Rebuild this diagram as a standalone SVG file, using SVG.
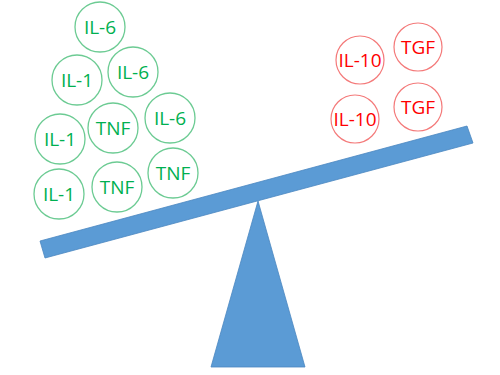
<svg xmlns="http://www.w3.org/2000/svg" width="500" height="375" viewBox="0 0 500 375">
  <style>
    .pro circle { fill: #ffffff; stroke: #6ccb93; stroke-width: 1.3; }
    .pro text { fill: #00b050; }
    .anti circle { fill: #ffffff; stroke: #f47a7a; stroke-width: 1.2; }
    .anti text { fill: #ff0000; }
    text { font-family: "Open Sans", "Liberation Sans", sans-serif; font-size: 19px; text-anchor: middle; }
    .scale { fill: #5b9bd5; stroke: #4a86c0; stroke-width: 0.8; }
  </style>
  <rect width="500" height="375" fill="#ffffff"/>

  <!-- seesaw: beam and fulcrum -->
  <g id="seesaw">
    <polygon id="fulcrum" class="scale" points="258,201 211,367 305,367"/>
    <polygon id="beam" class="scale" points="40,241 467,126 473,143 45,258"/>
  </g>

  <!-- pro-inflammatory cytokines (left pile) -->
  <g class="pro">
    <g id="il6-a"><circle cx="100" cy="27" r="25"/><text x="100" y="34">IL-6</text></g>
    <g id="il1-a"><circle cx="77" cy="80" r="25"/><text x="77" y="87">IL-1</text></g>
    <g id="il6-b"><circle cx="133" cy="72" r="25"/><text x="133" y="79">IL-6</text></g>
    <g id="il1-b"><circle cx="60" cy="139" r="25"/><text x="60" y="146">IL-1</text></g>
    <g id="tnf-a"><circle cx="113" cy="128" r="25"/><text x="113" y="135">TNF</text></g>
    <g id="il6-c"><circle cx="170" cy="118" r="25"/><text x="170" y="125">IL-6</text></g>
    <g id="il1-c"><circle cx="59" cy="194" r="25"/><text x="59" y="201">IL-1</text></g>
    <g id="tnf-b"><circle cx="117" cy="187" r="25"/><text x="117" y="194">TNF</text></g>
    <g id="tnf-c"><circle cx="173" cy="173" r="25"/><text x="173" y="180">TNF</text></g>
  </g>

  <!-- anti-inflammatory cytokines (right pile) -->
  <g class="anti">
    <g id="il10-a"><circle cx="360" cy="60" r="24"/><text x="360" y="67">IL-10</text></g>
    <g id="tgf-a"><circle cx="418" cy="47" r="24"/><text x="418" y="54">TGF</text></g>
    <g id="il10-b"><circle cx="355" cy="119" r="24"/><text x="355" y="126">IL-10</text></g>
    <g id="tgf-b"><circle cx="418" cy="107" r="24"/><text x="418" y="114">TGF</text></g>
  </g>

  <g id="connectors"/>
</svg>
